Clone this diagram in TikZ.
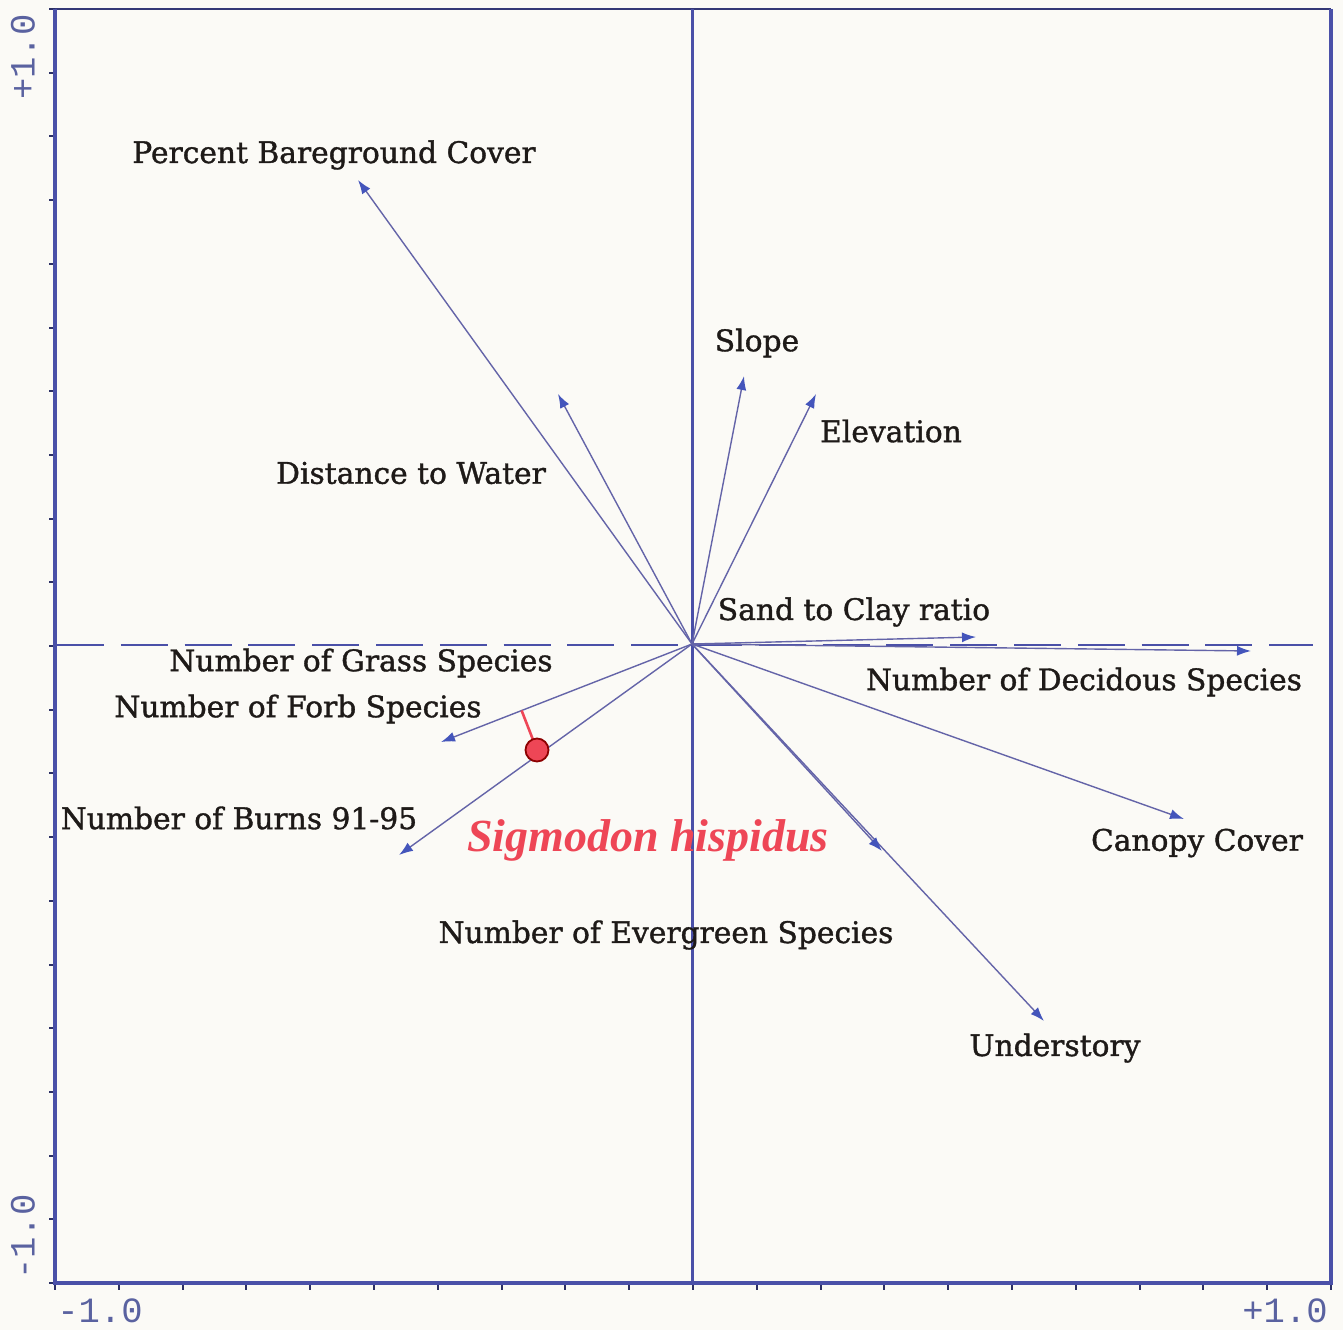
\documentclass[tikz,border=0pt]{standalone}
\usepackage{fontspec}
\setmainfont{DejaVu Serif}
\newfontfamily\labelfont[FakeBold=1.2]{DejaVu Serif}
\newfontfamily\redfont{Liberation Serif}
\newfontfamily\tickfont{Liberation Mono}
\usetikzlibrary{arrows.meta,calc}
\definecolor{paper}{HTML}{FBFAF6}
\definecolor{frameblue}{HTML}{4A50A8}
\definecolor{vecline}{HTML}{6464A8}
\definecolor{vechead}{HTML}{4455BB}
\definecolor{labelink}{HTML}{1E1A18}
\definecolor{tickink}{HTML}{5A62A0}
\definecolor{speciesred}{HTML}{EE4656}
\begin{document}
\begin{tikzpicture}[x=1pt,y=-1pt,
  vec/.style={draw=vecline,line width=1.4pt,-{Latex[length=14pt,width=10pt,fill=vechead,color=vechead]}},
  varlabel/.style={text=labelink,font=\labelfont\fontsize{29.7}{34}\selectfont,inner sep=0pt},
  ticklabel/.style={text=tickink,font=\tickfont\fontsize{35.5}{40}\selectfont,inner sep=0pt},
  axisline/.style={draw=frameblue,line width=3.4pt},
  tickmark/.style={draw=frameblue!60!black,line width=2pt}]
% page and background
\fill[paper] (0,0) rectangle (1343,1330);
\useasboundingbox (0,0) rectangle (1343,1330);

% frame corners and origin
\coordinate (tl) at (55,9);
\coordinate (bl) at (55,1283);
\coordinate (br) at (1331,1283);
\coordinate (tr) at (1331,9);
\coordinate (o) at (692,644);

% ticks on the left and bottom sides
\foreach \k in {0,...,20}{
  \draw[tickmark] (55,{9+63.7*\k}) -- ++(-6,0);
  \draw[tickmark] ({55+63.8*\k},1283) -- ++(0,7);
}

% frame
\draw[draw=frameblue!70!black,line width=1.4pt] (tl) -- (tr);
\draw[axisline] (tr) -- (br) -- (bl) -- (tl);

% zero axes
\draw[axisline,line width=3pt] (692,9) -- (692,1283);
\draw[draw=frameblue,line width=1.9pt,dash pattern=on 47pt off 16.8pt,dash phase=-2pt] (55,645) -- (1313,645);

% axis labels
\node[ticklabel] (xmin) at (100,1311) {-1.0};
\node[ticklabel] (xmax) at (1285,1311) {+1.0};
\node[ticklabel,rotate=90] (ymax) at (23,57) {+1.0};
\node[ticklabel,rotate=90] (ymin) at (23,1237) {-1.0};

% vector tips
\coordinate (bare) at (358,180);
\coordinate (dist) at (558,394);
\coordinate (slope) at (744,376);
\coordinate (elev) at (816,394);
\coordinate (sand) at (976,637);
\coordinate (decid) at (1251,651);
\coordinate (canopy) at (1184,819);
\coordinate (under) at (1044,1021);
\coordinate (ever) at (882,851);
\coordinate (grass) at (441,742);
\coordinate (burns) at (399,855);

% environmental vectors
\foreach \t in {bare,dist,slope,elev,sand,decid,canopy,under,ever,grass,burns}
  \draw[vec] (o) -- (\t);

% vector labels
\node[varlabel] (lbare) at (334,155) {Percent Bareground Cover};
\node[varlabel] (lslope) at (757,343) {Slope};
\node[varlabel] (lelev) at (891,431) {Elevation};
\node[varlabel] (ldist) at (411,473) {Distance to Water};
\node[varlabel] (lsand) at (854,612) {Sand to Clay ratio};
\node[varlabel] (lgrass) at (361,663) {Number of Grass Species};
\node[varlabel] (lforb) at (298,709) {Number of Forb Species};
\node[varlabel] (ldecid) at (1084,682) {Number of Decidous Species};
\node[varlabel] (lburns) at (239,818) {Number of Burns 91-95};
\node[varlabel] (lcanopy) at (1197,843) {Canopy Cover};
\node[varlabel] (lever) at (666,935) {Number of Evergreen Species};
\node[varlabel] (lunder) at (1055,1048) {Understory};

% species score and its projection onto the grass vector
\coordinate (sp) at (537,750);
\draw[draw=speciesred,line width=2.6pt] (sp) -- ($(o)!(sp)!(grass)$);
\node[circle,draw=red!55!black,fill=speciesred,line width=1.8pt,minimum size=23pt,inner sep=0pt] (spdot) at (sp) {};
\node[text=speciesred,font=\redfont\bfseries\itshape\fontsize{46}{52}\selectfont,inner sep=0pt] (lsp) at (648,840) {Sigmodon hispidus};
\end{tikzpicture}
\end{document}
